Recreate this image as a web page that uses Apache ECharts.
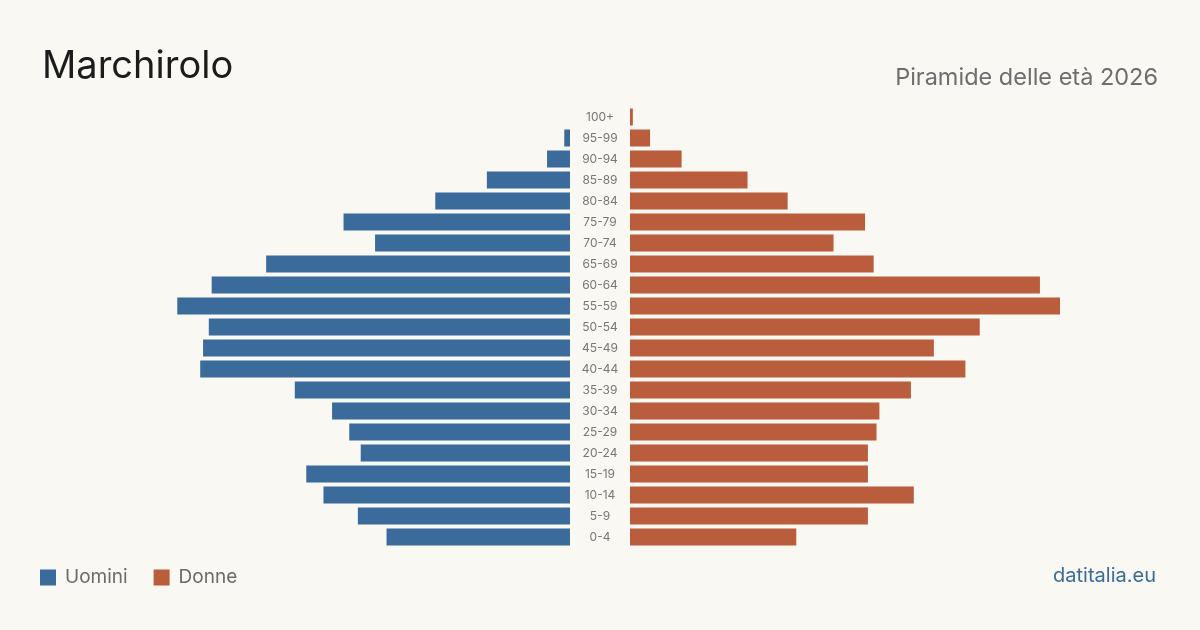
<!DOCTYPE html>
<html>
<head>
<meta charset="utf-8">
<script src="https://cdn.jsdelivr.net/npm/echarts@6/dist/echarts.min.js"></script>
<style>
  html, body { margin: 0; padding: 0; background: #f9f8f3; }
  #chart { width: 1200px; height: 630px; }
</style>
</head>
<body>
<div id="chart"></div>
<script>
// age groups, top to bottom as in the picture
const ageGroups = ['100+', '95-99', '90-94', '85-89', '80-84', '75-79', '70-74', '65-69',
  '60-64', '55-59', '50-54', '45-49', '40-44', '35-39', '30-34', '25-29', '20-24',
  '15-19', '10-14', '5-9', '0-4'];

// residents per age group
const men = [0, 2, 8, 29, 47, 79, 68, 106, 125, 137, 126, 128, 129, 96, 83, 77, 73, 92, 86, 74, 64];
const women = [1, 7, 18, 41, 55, 82, 71, 85, 143, 150, 122, 106, 117, 98, 87, 86, 83, 83, 99, 83, 58];

const BLUE = '#3b6b9b';
const ORANGE = '#ba5d3c';
const axisMax = 150;

const chart = echarts.init(document.getElementById('chart'));

const option = {
  backgroundColor: '#f9f8f3',
  animation: false,
  textStyle: { fontFamily: 'Inter, "Liberation Sans", sans-serif' },
  title: [
    {
      text: 'Marchirolo',
      left: 42, top: 48, padding: 0,
      textStyle: { fontSize: 38, fontWeight: 'normal', color: '#1c1c1c', fontFamily: 'Inter' }
    },
    {
      text: 'Piramide delle età 2026',
      right: 42, top: 66, padding: 0,
      textStyle: { fontSize: 23.5, fontWeight: 'normal', color: '#6e6e6e', fontFamily: 'Inter' }
    },
    {
      text: 'datitalia.eu',
      right: 44, top: 566, padding: 0,
      textStyle: { fontSize: 20, fontWeight: 'normal', color: BLUE, fontFamily: 'Inter' }
    }
  ],
  legend: {
    left: 40, top: 568, padding: 0,
    itemWidth: 16, itemHeight: 16, itemGap: 26,
    icon: 'rect',
    textStyle: { fontSize: 19, color: '#6b6b6b', fontFamily: 'Inter', padding: [0, 0, 0, 4] },
    data: ['Uomini', 'Donne']
  },
  grid: [
    { left: 140, width: 430, top: 106.5, height: 441 },
    { left: 630, width: 430, top: 106.5, height: 441 }
  ],
  xAxis: [
    { gridIndex: 0, type: 'value', min: 0, max: axisMax, inverse: true, show: false },
    { gridIndex: 1, type: 'value', min: 0, max: axisMax, show: false }
  ],
  yAxis: [
    {
      gridIndex: 0, type: 'category', data: ageGroups, inverse: true,
      axisLine: { show: false }, axisTick: { show: false }, axisLabel: { show: false }
    },
    {
      gridIndex: 1, type: 'category', data: ageGroups, inverse: true, position: 'left',
      axisLine: { show: false }, axisTick: { show: false },
      axisLabel: { align: 'center', margin: 30, fontSize: 12, color: '#777777', fontFamily: 'Inter' }
    }
  ],
  series: [
    {
      name: 'Uomini', type: 'bar', xAxisIndex: 0, yAxisIndex: 0,
      data: men, barWidth: 17, itemStyle: { color: BLUE }
    },
    {
      name: 'Donne', type: 'bar', xAxisIndex: 1, yAxisIndex: 1,
      data: women, barWidth: 17, itemStyle: { color: ORANGE }
    }
  ]
};

chart.setOption(option);
</script>
</body>
</html>
